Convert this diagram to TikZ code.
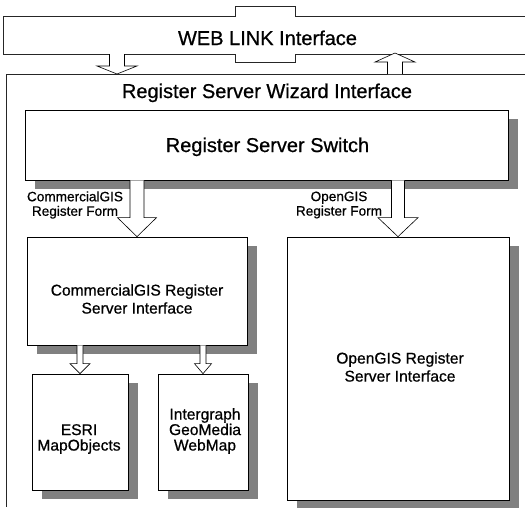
\documentclass[tikz,border=0pt]{standalone}
\usepackage{fontspec}
\setmainfont{Liberation Sans}[FakeBold=0.7]
\usetikzlibrary{calc,shadows}
\newcommand{\blkdown}[5]{%
  \draw[blk] let \p1=(#1), \p2=(#2) in
    ({\x1-#3},\y1) -- ({\x1-#3},{\y2+#5}) -- ({\x1-#4},{\y2+#5}) -- (\x1,\y2)
    -- ({\x1+#4},{\y2+#5}) -- ({\x1+#3},{\y2+#5}) -- ({\x1+#3},\y1);}
\newcommand{\blkup}[5]{%
  \draw[blk] let \p1=(#1), \p2=(#2) in
    ({\x1-#3},\y1) -- ({\x1-#3},{\y2-#5}) -- ({\x1-#4},{\y2-#5}) -- (\x1,\y2)
    -- ({\x1+#4},{\y2-#5}) -- ({\x1+#3},{\y2-#5}) -- ({\x1+#3},\y1);}
\begin{document}
\begin{tikzpicture}[x=1pt,y=-1pt,
  frame/.style={draw=black!85, line width=0.6pt},
  box/.style={draw, line width=0.7pt, fill=white, inner sep=0pt,
    drop shadow={shadow xshift=10pt, shadow yshift=-9pt, fill=black!50, opacity=1}},
  blk/.style={draw, line width=0.6pt, fill=white},
  ttl/.style={font=\fontsize{20}{24}\selectfont, inner sep=0pt},
  btxt/.style={font=\fontsize{15.6}{18}\selectfont, align=center, inner sep=0pt},
  stxt/.style={font=\fontsize{15.6}{15.5}\selectfont, align=center, inner sep=0pt},
  lbl/.style={font=\fontsize{13.6}{14.5}\selectfont, align=center, inner sep=0pt}]
\useasboundingbox (0,0) rectangle (525,507);
% WEB LINK frame
\draw[frame] (525,16) -- (295,16) -- (295,6) -- (235,6) -- (235,16) -- (3,16)
  -- (3,54) -- (235,54) -- (235,62) -- (295,62) -- (295,54) -- (525,54);
\node[ttl, anchor=base] (web) at (267.5,45) {WEB LINK Interface};
% Wizard frame
\draw[frame] (525,74) -- (6,74) -- (6,507);
\node[ttl, anchor=base] (wiz) at (267,98) {Register Server Wizard Interface};
\coordinate (webA) at (117,54); \coordinate (wizA) at (117,74);
\coordinate (wizB) at (395,74); \coordinate (webB) at (395,53);
% boxes
\node[box, minimum width=483pt, minimum height=70pt] (sw) at (266.5,145) {};
\node[ttl, anchor=base] (swt) at (267.5,152) {Register Server Switch};
\node[box, minimum width=220pt, minimum height=108pt] (ci) at (137,291) {};
\node[btxt] (cit) at (137,299) {CommercialGIS Register\\Server Interface};
\node[box, minimum width=222pt, minimum height=263pt] (og) at (398,368.5) {};
\node[btxt] (ogt) at (400,367) {OpenGIS Register\\Server Interface};
\node[box, minimum width=96pt, minimum height=116pt] (esri) at (80,432) {};
\node[stxt] (esrit) at (79,439) {ESRI\\MapObjects};
\node[box, minimum width=90pt, minimum height=116pt] (ig) at (203,432) {};
\node[stxt] (igt) at (205,431) {Intergraph\\GeoMedia\\WebMap};
% labels
\node[lbl] (cl) at (75,205) {CommercialGIS\\Register Form};
\node[lbl] (ol) at (339,205) {OpenGIS\\Register Form};
% arrows
\blkdown{webA}{wizA}{7.5pt}{20pt}{8pt}
\blkup{wizB}{webB}{7.5pt}{20pt}{9pt}
\blkdown{sw.south -| ci.north}{ci.north}{7pt}{19.5pt}{19pt}
\blkdown{sw.south -| og.north}{og.north}{6.5pt}{20pt}{19pt}
\blkdown{ci.south -| esri.north}{esri.north}{3pt}{10pt}{10pt}
\blkdown{ci.south -| ig.north}{ig.north}{3pt}{8.5pt}{10pt}
\end{tikzpicture}
\end{document}
